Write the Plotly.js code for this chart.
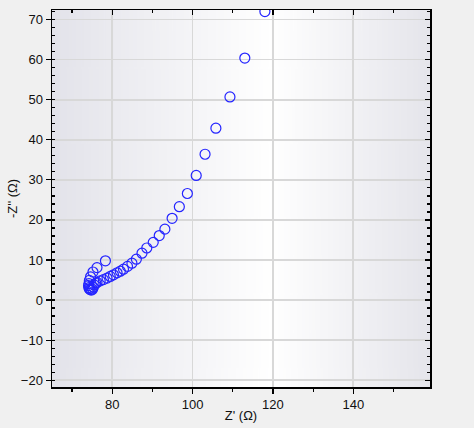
<!DOCTYPE html>
<html>
<head>
<meta charset="utf-8">
<script src="https://cdn.plot.ly/plotly-3.0.1.min.js"></script>
<style>
  html, body { margin: 0; padding: 0; background: #f0f0f0; }
  #plot { width: 474px; height: 428px; }
</style>
</head>
<body>
<div id="plot"></div>
<script>
// Nyquist data (ohm)
const zReal = [78.3, 76.2, 75.2, 74.6, 74.3, 74.2,
               74.1, 74.2, 74.3, 74.5, 74.8, 75.1, 75.3,
               75.5, 75.9, 76.2, 77.0, 77.8, 78.7, 79.5, 80.3, 81.2, 82.0,
               82.8, 83.8, 84.9, 86.0, 87.4, 88.6, 90.2, 91.7, 93.1, 94.9,
               96.7, 98.7, 100.9, 103.1, 105.8, 109.3, 113.0, 118.0];
const zImag = [9.8, 8.1, 7.0, 5.8, 4.9, 4.1,
               3.6, 3.1, 2.8, 2.6, 2.5, 2.7, 3.2,
               3.8, 4.2, 4.4, 4.8, 5.1, 5.5, 5.9, 6.3, 6.8, 7.2,
               7.7, 8.4, 9.2, 10.2, 11.7, 13.0, 14.4, 16.1, 17.7, 20.4,
               23.3, 26.6, 31.1, 36.4, 42.9, 50.7, 60.4, 72.0];

const xRange = [65, 159.1];
const yRange = [-21.7, 72.4];

// horizontal gradient for the plot background
function gradientImage() {
    const c = document.createElement("canvas");
    c.width = 400; c.height = 10;
    const ctx = c.getContext("2d");
    const g = ctx.createLinearGradient(0, 0, 400, 0);
    g.addColorStop(0, "#e3e3ea");
    g.addColorStop(0.58, "#ffffff");
    g.addColorStop(1, "#e5e5eb");
    ctx.fillStyle = g;
    ctx.fillRect(0, 0, 400, 10);
    return c.toDataURL();
}

const font = { family: "Liberation Sans, Arial, sans-serif", size: 13, color: "#111" };

const trace1 = {
    x: zReal, y: zImag, type: 'scatter', mode: 'markers',
    marker: { symbol: 'circle-open', size: 10, color: '#2424ff', line: { width: 1.2 } },
    hoverinfo: 'x+y'
};
// invisible copy so the mirrored top/right axes get drawn
const trace2 = {
    x: zReal, y: zImag, type: 'scatter', mode: 'markers', xaxis: 'x2', yaxis: 'y2',
    marker: { size: 1, opacity: 0 }, hoverinfo: 'skip', showlegend: false
};

const layout = {
    width: 474, height: 428,
    margin: { l: 52, r: 44, t: 9.5, b: 40.5 },
    paper_bgcolor: '#f0f0f0',
    plot_bgcolor: '#ffffff',
    showlegend: false,
    font: font,
    images: [{
        source: gradientImage(), xref: 'paper', yref: 'paper',
        x: 0, y: 1, sizex: 1, sizey: 1, sizing: 'stretch', layer: 'below'
    }],
    xaxis: {
        range: xRange, dtick: 20, tick0: 0,
        showline: true, linecolor: '#000', linewidth: 1.5,
        ticks: 'outside', ticklen: 5, tickwidth: 1.2, tickcolor: '#000',
        showgrid: true, gridcolor: '#d8d8d8', gridwidth: 1.6,
        zeroline: false,
        minor: { dtick: 10, ticks: 'outside', ticklen: 3, tickcolor: '#000', showgrid: false },
        title: { text: "Z' (Ω)", font: { size: 13 }, standoff: 0 }
    },
    yaxis: {
        range: yRange, dtick: 10, tick0: 0,
        showline: true, linecolor: '#000', linewidth: 1.5,
        ticks: 'outside', ticklen: 5, tickwidth: 1.2, tickcolor: '#000',
        showgrid: true, gridcolor: '#d8d8d8', gridwidth: 1.6,
        zeroline: false,
        minor: { dtick: 2, ticks: 'inside', ticklen: 3, tickcolor: '#000', showgrid: false },
        title: { text: "-Z'' (Ω)", font: { size: 13 }, standoff: 0 }
    },
    xaxis2: {
        overlaying: 'x', side: 'top', anchor: 'y2', range: xRange, dtick: 20, tick0: 0,
        showline: true, linecolor: '#000', linewidth: 1.5,
        ticks: 'inside', ticklen: 5, tickwidth: 1.2, tickcolor: '#000',
        showticklabels: false, showgrid: false, zeroline: false,
        minor: { dtick: 10, ticks: 'inside', ticklen: 3, tickcolor: '#000', showgrid: false }
    },
    yaxis2: {
        overlaying: 'y', side: 'right', anchor: 'x2', range: yRange, dtick: 10, tick0: 0,
        showline: true, linecolor: '#000', linewidth: 1.5,
        ticks: 'inside', ticklen: 5, tickwidth: 1.2, tickcolor: '#000',
        showticklabels: false, showgrid: false, zeroline: false,
        minor: { dtick: 2, ticks: 'inside', ticklen: 3, tickcolor: '#000', showgrid: false }
    }
};

Plotly.newPlot('plot', [trace2, trace1], layout, { displayModeBar: false, staticPlot: true });
</script>
</body>
</html>
